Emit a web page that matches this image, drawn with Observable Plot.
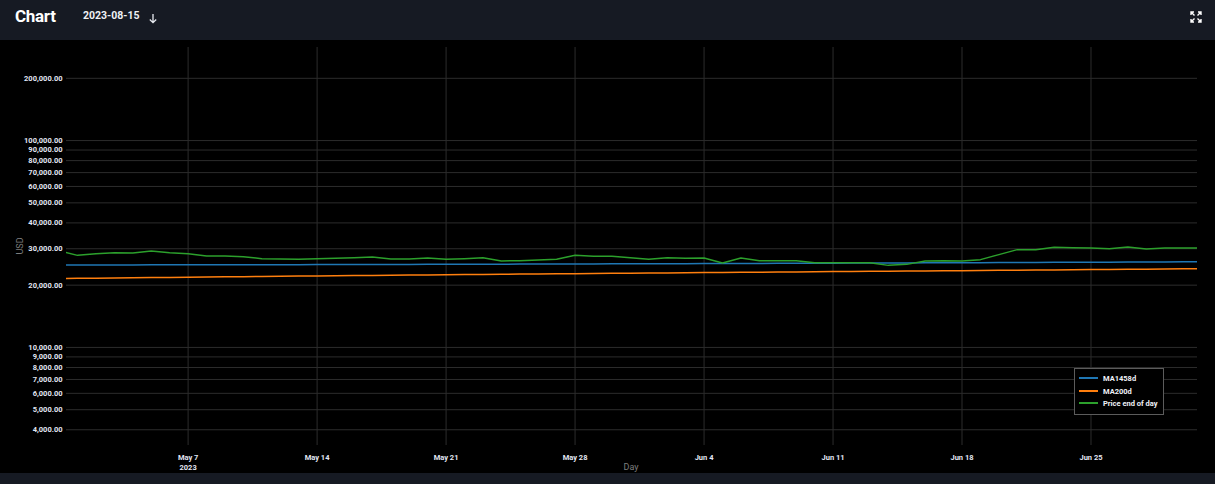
<!DOCTYPE html>
<html><head><meta charset="utf-8">
<script src="https://cdn.jsdelivr.net/npm/d3@7"></script>
<script src="https://cdn.jsdelivr.net/npm/@observablehq/plot@0.6"></script>
<style>
html,body{margin:0;padding:0;background:#000;}
#page{position:relative;width:1215px;height:484px;background:#000;overflow:hidden;font-family:Roboto,"Noto Sans",sans-serif;}
#header{position:absolute;left:0;top:0;width:1215px;height:40px;background:#161a23;}
#title{position:absolute;left:15px;top:8px;font-size:17px;line-height:17px;font-weight:700;color:#fff;letter-spacing:-0.3px;}
#date{position:absolute;left:83px;top:11px;font-size:10.5px;line-height:10.5px;font-weight:700;color:#eef0f4;}
#footer{position:absolute;left:0;top:473px;width:1215px;height:11px;background:#161a23;}
#chart{position:absolute;left:0;top:40px;width:1215px;}
#ylab{position:absolute;left:20px;top:246px;transform:translate(-50%,-50%) rotate(-90deg);font-size:9px;color:#7d7d7d;}
#xlab{position:absolute;left:631px;top:467px;transform:translate(-50%,-50%);font-size:9px;color:#7d7d7d;}
#legend{position:absolute;left:1074px;top:368px;width:88px;height:45px;border:1px solid #5c5c5c;background:#000;}
.lrow{position:absolute;left:4px;height:10px;font-size:7.5px;line-height:10px;font-weight:700;color:#f0f2f8;white-space:nowrap;}
.lrow span.sw{display:inline-block;width:19px;height:1.5px;vertical-align:middle;margin-right:5px;position:relative;top:-1px;}
</style></head>
<body>
<div id="page">
  <div id="header">
    <div id="title">Chart</div>
    <div id="date">2023-08-15</div>
    <svg style="position:absolute;left:148px;top:13px" width="10" height="11" viewBox="0 0 10 11">
      <path d="M5 1 V9.5 M1.8 6.5 L5 9.7 L8.2 6.5" stroke="#e8eaf0" stroke-width="1.3" fill="none"/>
    </svg>
    <svg style="position:absolute;left:1190px;top:11px" width="12" height="12" viewBox="0 0 12 12">
      <g stroke="#fff" stroke-width="1.4" fill="none">
        <path d="M1 4 V1 H4 M1 1 L4.5 4.5"/>
        <path d="M8 1 H11 V4 M11 1 L7.5 4.5"/>
        <path d="M1 8 V11 H4 M1 11 L4.5 7.5"/>
        <path d="M8 11 H11 V8 M11 11 L7.5 7.5"/>
      </g>
    </svg>
  </div>
  <div id="chart"></div>
  <div id="ylab">USD</div>
  <div id="xlab">Day</div>
  <div id="legend"></div>
  <div id="footer"></div>
</div>
<script>
// ---- data ----
const dates = [
 "2023-04-30",
 "2023-05-01","2023-05-02","2023-05-03","2023-05-04","2023-05-05","2023-05-06","2023-05-07","2023-05-08","2023-05-09","2023-05-10",
 "2023-05-11","2023-05-12","2023-05-13","2023-05-14","2023-05-15","2023-05-16","2023-05-17","2023-05-18","2023-05-19","2023-05-20",
 "2023-05-21","2023-05-22","2023-05-23","2023-05-24","2023-05-25","2023-05-26","2023-05-27","2023-05-28","2023-05-29","2023-05-30","2023-05-31",
 "2023-06-01","2023-06-02","2023-06-03","2023-06-04","2023-06-05","2023-06-06","2023-06-07","2023-06-08","2023-06-09","2023-06-10",
 "2023-06-11","2023-06-12","2023-06-13","2023-06-14","2023-06-15","2023-06-16","2023-06-17","2023-06-18","2023-06-19","2023-06-20",
 "2023-06-21","2023-06-22","2023-06-23","2023-06-24","2023-06-25","2023-06-26","2023-06-27","2023-06-28","2023-06-29","2023-06-30",
 "2023-07-01"
];
const ma1458d = [
 25030,
 25040,25050,25055,25065,25070,25080,25090,25095,25105,25110,
 25120,25130,25135,25145,25150,25165,25180,25190,25205,25220,
 25230,25245,25260,25270,25285,25300,25310,25325,25340,25350,25365,
 25380,25395,25415,25430,25450,25465,25480,25500,25515,25535,
 25550,25570,25585,25600,25620,25640,25660,25680,25700,25720,
 25745,25765,25785,25805,25825,25845,25870,25890,25910,25930,
 25950
];
const ma200d = [
 21540,
 21590,21630,21680,21720,21770,21810,21850,21900,21940,21990,
 22030,22080,22120,22160,22210,22250,22290,22340,22380,22420,
 22460,22500,22540,22580,22620,22650,22690,22730,22770,22810,22850,
 22880,22920,22960,23000,23030,23070,23110,23150,23180,23220,
 23260,23290,23330,23370,23400,23440,23470,23510,23550,23580,
 23620,23660,23700,23740,23780,23820,23860,23900,23940,23980,
 24020
];
const priceEndOfDay = [
 29270,
 27870,28410,28720,28630,29270,28720,28410,27690,27690,27470,
 26870,26780,26660,26870,26960,27170,27380,26780,26780,27080,
 26660,26870,27170,26190,26270,26490,26660,27870,27560,27560,27170,
 26660,27170,26960,27080,25610,27080,26270,26270,26270,25690,
 25690,25690,25690,24930,25210,26190,26270,26190,26570,28090,
 29700,29700,30470,30360,30250,30010,30610,29930,30250,30250,
 30250
];
const seriesNames = ["MA1458d", "MA200d", "Price end of day"];
const seriesColors = ["#1f77b4", "#ff7f0e", "#2ca02c"];
const xTickDates = ["2023-05-07","2023-05-14","2023-05-21","2023-05-28","2023-06-04","2023-06-11","2023-06-18","2023-06-25"];
const xTickLabels = ["May 7\n2023","May 14","May 21","May 28","Jun 4","Jun 11","Jun 18","Jun 25"];
const yTicks = [4000,5000,6000,7000,8000,9000,10000,20000,30000,40000,50000,60000,70000,80000,90000,100000,200000];
const xDomain = ["2023-04-30T09:36:00Z", "2023-06-30T18:43:00Z"];
const yDomain = [3357, 281800];

// ---- build ----
const rows = dates.map((d, i) => ({date: new Date(d), ma1458d: ma1458d[i], ma200d: ma200d[i], price: priceEndOfDay[i]}));
const xTicks = xTickDates.map(d => new Date(d));
const labelMap = new Map(xTicks.map((d, i) => [+d, xTickLabels[i]]));
const gridColor = "#2c2c2c";
const tickColor = "#e2e6f3";
const fmt = d3.format(",.2f");

const chart = Plot.plot({
  width: 1215,
  height: 433,
  marginTop: 7,
  marginBottom: 28,
  marginLeft: 66,
  marginRight: 18,
  style: {background: "#000", color: tickColor, fontFamily: "Roboto, 'Noto Sans', sans-serif", fontSize: "7.5px", fontWeight: 700},
  x: {type: "utc", domain: xDomain.map(d => new Date(d))},
  y: {type: "log", domain: yDomain, axis: null},
  marks: [
    Plot.gridX(xTicks, {stroke: gridColor, strokeOpacity: 1}),
    Plot.gridY(yTicks, {stroke: gridColor, strokeOpacity: 1}),
    Plot.axisX(xTicks, {tickSize: 0, tickPadding: 7, tickFormat: d => labelMap.get(+d), label: null, lineHeight: 1.33, fill: tickColor}),
    Plot.text(yTicks, {y: d => d, text: d => fmt(d), frameAnchor: "left", textAnchor: "end", dx: -4, fill: tickColor}),
    Plot.lineY(rows, {x: "date", y: "ma1458d", stroke: seriesColors[0], strokeWidth: 1.5, clip: true}),
    Plot.lineY(rows, {x: "date", y: "ma200d", stroke: seriesColors[1], strokeWidth: 1.5, clip: true}),
    Plot.lineY(rows, {x: "date", y: "price", stroke: seriesColors[2], strokeWidth: 1.5, clip: true})
  ]
});
document.getElementById("chart").appendChild(chart);

const legend = document.getElementById("legend");
const rowTops = [5, 18, 30];
seriesNames.forEach((name, i) => {
  const r = document.createElement("div");
  r.className = "lrow";
  r.style.top = rowTops[i] + "px";
  r.innerHTML = `<span class="sw" style="background:${seriesColors[i]}"></span>${name}`;
  legend.appendChild(r);
});
</script>
</body></html>
